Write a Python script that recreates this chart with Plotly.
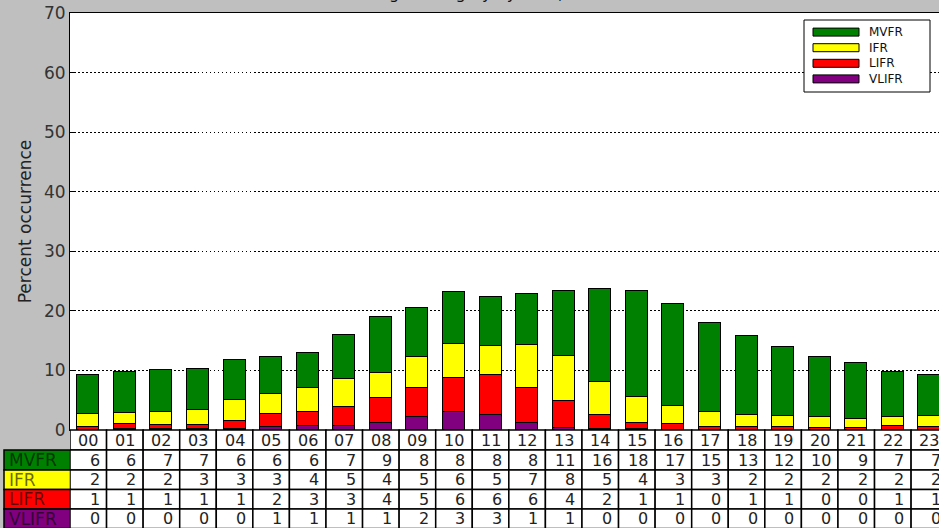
import plotly.graph_objects as go

# ---- data ----
hours = ["00","01","02","03","04","05","06","07","08","09","10","11",
         "12","13","14","15","16","17","18","19","20","21","22","23"]

# bar segment heights (percent occurrence)
vlifr = [0.05,0.1,0.1,0.1,0.15,0.5,0.6,0.7,1.2,2.1,3.1,2.6,
         1.2,0.3,0.1,0.1,0.05,0.05,0.05,0.05,0.05,0.05,0.05,0.05]
lifr  = [0.45,0.9,0.7,0.7,1.35,2.2,2.4,3.2,4.2,5.0,5.7,6.7,
         5.9,4.6,2.5,1.1,0.95,0.45,0.45,0.45,0.25,0.25,0.55,0.45]
ifr   = [2.2,1.9,2.2,2.5,3.6,3.3,4.1,4.7,4.2,5.2,5.6,4.8,
         7.1,7.5,5.4,4.4,3.0,2.6,2.0,1.8,1.8,1.5,1.5,1.9]
mvfr  = [6.5,6.8,7.1,7.0,6.7,6.3,5.9,7.4,9.3,8.1,8.7,8.3,
         8.7,10.9,15.6,17.7,17.2,14.9,13.2,11.7,10.1,9.5,7.6,6.8]

# table values as printed under the chart
mvfr_tbl  = [6,6,7,7,6,6,6,7,9,8,8,8,8,11,16,18,17,15,13,12,10,9,7,7]
ifr_tbl   = [2,2,2,3,3,3,4,5,4,5,6,5,7,8,5,4,3,3,2,2,2,2,2,2]
lifr_tbl  = [1,1,1,1,1,2,3,3,4,5,6,6,6,4,2,1,1,0,1,1,0,0,1,1]
vlifr_tbl = [0,0,0,0,0,1,1,1,1,2,3,3,1,1,0,0,0,0,0,0,0,0,0,0]

cats = ["MVFR", "IFR", "LIFR", "VLIFR"]
colors = {"MVFR": "#008000", "IFR": "#ffff00", "LIFR": "#ff0000", "VLIFR": "#800080"}
series = {"MVFR": mvfr, "IFR": ifr, "LIFR": lifr, "VLIFR": vlifr}
tables = {"MVFR": mvfr_tbl, "IFR": ifr_tbl, "LIFR": lifr_tbl, "VLIFR": vlifr_tbl}

title_text = "Flight category by hour, all months"
ytitle = "Percent occurrence"

# ---- layout geometry ----
W, H = 939, 528
L, R, T, B = 70, 0, 13, 98
plot_h = H - T - B
col_px = 36.57
x_max = -0.5 + (W - L - R) / col_px

FONT = "DejaVu Sans"

fig = go.Figure()
xs = list(range(len(hours)))
for c in ["VLIFR", "LIFR", "IFR", "MVFR"]:
    fig.add_trace(go.Bar(
        x=xs, y=series[c], name=c, width=0.6,
        marker=dict(color=colors[c], line=dict(color="black", width=1)),
        showlegend=False,
    ))

shapes = []
annots = []

def py(p):  # pixel y -> paper y
    return (H - B - p) / plot_h

def px(p):  # pixel x -> paper x
    return (p - L) / (W - L - R)

row_edges = [430, 450, 470, 489.5, 509, 528.5]
text_col = "#222222"

# header row
for i, h in enumerate(hours):
    shapes.append(dict(type="rect", xref="x", yref="paper",
                       x0=i - 0.5, x1=i + 0.5, y0=py(row_edges[1]), y1=py(row_edges[0]),
                       fillcolor="white", line=dict(color="black", width=1.5), layer="above"))
    annots.append(dict(x=i, y=py((row_edges[0] + row_edges[1]) / 2), xref="x", yref="paper",
                       text=h, showarrow=False, xanchor="center", yanchor="middle",
                       font=dict(family=FONT, size=16, color=text_col)))

# data rows
for r, c in enumerate(cats):
    y0, y1 = row_edges[r + 1], row_edges[r + 2]
    shapes.append(dict(type="rect", xref="paper", yref="paper",
                       x0=px(4), x1=px(70.5), y0=py(y1), y1=py(y0),
                       fillcolor=colors[c], line=dict(color="black", width=1.5), layer="above"))
    annots.append(dict(x=px(7), y=py((y0 + y1) / 2), xref="paper", yref="paper",
                       text=c, showarrow=False, xanchor="left", yanchor="middle",
                       font=dict(family=FONT, size=17, color="rgba(0,0,0,0.6)")))
    for i, v in enumerate(tables[c]):
        shapes.append(dict(type="rect", xref="x", yref="paper",
                           x0=i - 0.5, x1=i + 0.5, y0=py(y1), y1=py(y0),
                           fillcolor="white", line=dict(color="black", width=1.5), layer="above"))
        annots.append(dict(x=i, y=py((y0 + y1) / 2), xref="x", yref="paper",
                           text=str(v), showarrow=False, xanchor="right", yanchor="middle",
                           xshift=col_px / 2 - 5,
                           font=dict(family=FONT, size=16, color=text_col)))

# legend (drawn manually to mimic wide patches)
shapes.append(dict(type="rect", xref="paper", yref="paper",
                   x0=px(804), x1=px(930), y0=py(92), y1=py(20),
                   fillcolor="white", line=dict(color="black", width=1), layer="above"))
leg_fs = 12
leg_step = 1.3 * leg_fs
leg_mid = 55.5
leg_y = [leg_mid + (k - 1.5) * leg_step for k in range(4)]
for c, yy in zip(cats, leg_y):
    shapes.append(dict(type="rect", xref="paper", yref="paper",
                       x0=px(813), x1=px(859), y0=py(yy + 4), y1=py(yy - 4),
                       fillcolor=colors[c], line=dict(color="black", width=1), layer="above"))
annots.append(dict(x=px(868), y=py(leg_mid), xref="paper", yref="paper",
                   text="<br>".join(cats), showarrow=False, xanchor="left", yanchor="middle",
                   align="left", borderpad=0,
                   font=dict(family=FONT, size=leg_fs, color="#111111")))

# title (mostly cut off at the top of the picture)
annots.append(dict(x=px(511), y=py(5), xref="paper", yref="paper",
                   text=title_text, showarrow=False, xanchor="center", yanchor="bottom",
                   font=dict(family=FONT, size=16, color="#111111")))

fig.update_layout(
    width=W, height=H,
    margin=dict(l=L, r=R, t=T, b=B, pad=0),
    paper_bgcolor="#bfbfbf", plot_bgcolor="white",
    barmode="stack", bargap=0,
    showlegend=False,
    shapes=shapes, annotations=annots,
    font=dict(family=FONT, size=15, color=text_col),
)
fig.update_xaxes(range=[-0.5, x_max], showticklabels=False, showgrid=False,
                 zeroline=False, showline=True, linecolor="black", linewidth=1,
                 mirror=True, ticks="")
fig.update_yaxes(range=[0, 70], dtick=10, showgrid=True, gridcolor="black",
                 griddash="1.5px,2.5px", gridwidth=1, zeroline=False,
                 showline=True, linecolor="black", linewidth=1, mirror=True,
                 ticks="inside", ticklen=4, tickcolor="black",
                 tickfont=dict(family=FONT, size=17, color="#333333"),
                 title=dict(text=ytitle, font=dict(family=FONT, size=17, color="#222222"),
                            standoff=8))

fig.write_html(
    "out.html",
    config={"displayModeBar": False},
    post_script="document.body.style.margin='0';document.body.style.overflow='hidden';",
)
